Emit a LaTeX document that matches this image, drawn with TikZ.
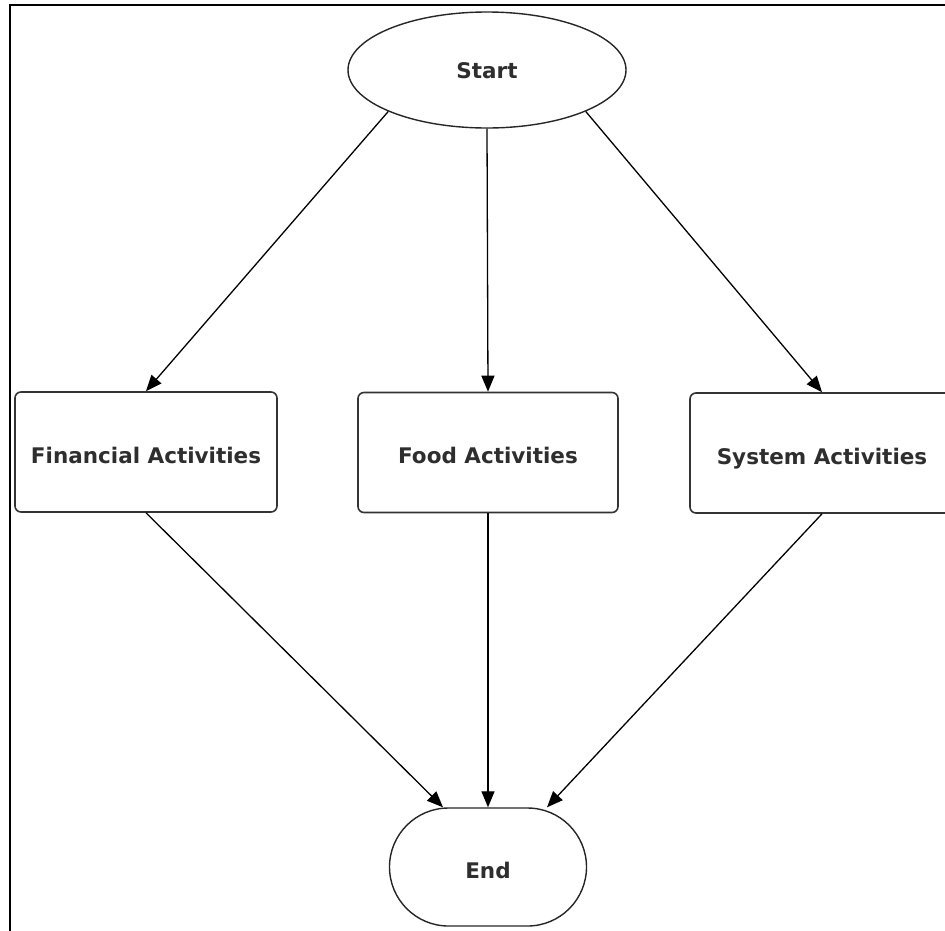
\documentclass[tikz,border=0pt]{standalone}
\usepackage{fontspec}
\setmainfont{DejaVu Sans}
\usetikzlibrary{shapes.geometric,shapes.misc,arrows.meta,calc}
\begin{document}
\begin{tikzpicture}[x=1pt,y=-1pt,
  lbl/.style={font=\fontsize{21.5}{24}\selectfont\bfseries, text=black!82, text height=24pt, text depth=2pt},
  startshape/.style={ellipse, draw=black!85, line width=1.4pt, minimum width=278pt, minimum height=116pt, inner sep=0pt, lbl, text height=20pt, text depth=4pt},
  actbox/.style={rectangle, rounded corners=6pt, draw=black!80, line width=1.6pt, minimum height=120pt, inner sep=0pt, lbl},
  endshape/.style={rounded rectangle, draw=black!85, line width=1.4pt, minimum width=197pt, minimum height=118pt, inner sep=0pt, lbl},
  conn/.style={draw=black, line width=1.3pt, -{Triangle[length=16pt,width=13pt]}}
]
\useasboundingbox (0,0) rectangle (945,930);
\clip (0,0) rectangle (945,930);
\draw[line width=2pt] (10,931) -- (10,5) -- (946,5);

\node[startshape] (start) at (487,70) {Start};
\node[actbox, minimum width=262pt] (fin) at (146,452) {Financial Activities};
\node[actbox, minimum width=260pt] (food) at (488,452.5) {Food Activities};
\node[actbox, minimum width=264pt] (sys) at (822,453) {System Activities};
\node[endshape] (end) at (488,867) {End};

\draw[conn] (start.south west) -- (fin.north);
\draw[conn] (start.south) -- (food.north);
\draw[conn] (start.south east) -- (sys.north);

\draw[conn] (fin.south) -- ([xshift=-45pt]end.north);
\draw[conn] (food.south) -- (end.north);
\draw[conn] (sys.south) -- ([xshift=59pt]end.north);
\end{tikzpicture}
\end{document}
